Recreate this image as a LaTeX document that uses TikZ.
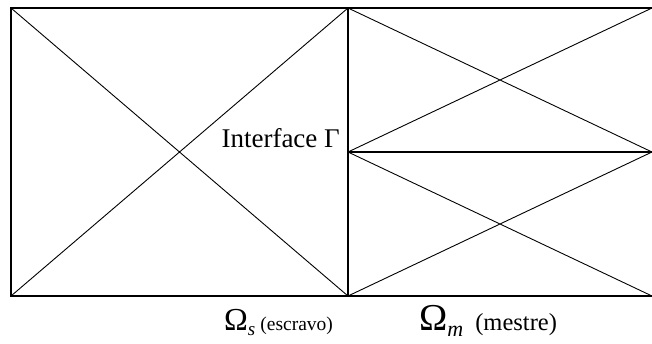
\documentclass[tikz,border=0pt]{standalone}
\usepackage{fontspec}
\setmainfont{Liberation Serif}
\begin{document}
\begin{tikzpicture}[x=1pt,y=-1pt,
  border/.style={line width=2pt},
  diag/.style={line width=0.9pt},
  lbl/.style={inner sep=0pt}]
\useasboundingbox (0,0) rectangle (652,343);
\coordinate (A) at (11,8);
\coordinate (B) at (348,8);
\coordinate (C) at (348,296);
\coordinate (D) at (11,296);
\coordinate (E) at (652,8);
\coordinate (F) at (652,296);
\coordinate (M) at (348,152);
\coordinate (N) at (652,152);
\draw[border] (E) -- (A) -- (D) -- (F);
\draw[border] (B) -- (C);
\draw[border] (M) -- (N);
\draw[diag] (A) -- (C) (D) -- (B);
\draw[diag] (B) -- (N) (M) -- (E);
\draw[diag] (M) -- (F) (C) -- (N);
\node[lbl,anchor=base east,font=\fontsize{27}{29}\selectfont] (gam) at (340,147) {Interface Γ};
\node[lbl,anchor=base west] (os) at (224,330) {{\fontsize{32}{34}\selectfont Ω}\raisebox{-5pt}{\fontsize{19}{20}\selectfont\itshape s}\hspace{5pt}{\fontsize{19.5}{21}\selectfont(escravo)}};
\node[lbl,anchor=base west] (om) at (419,330) {{\fontsize{38}{40}\selectfont Ω}\raisebox{-6pt}{\fontsize{22}{23}\selectfont\itshape m}\hspace{12pt}{\fontsize{24.5}{26}\selectfont(mestre)}};
\end{tikzpicture}
\end{document}
